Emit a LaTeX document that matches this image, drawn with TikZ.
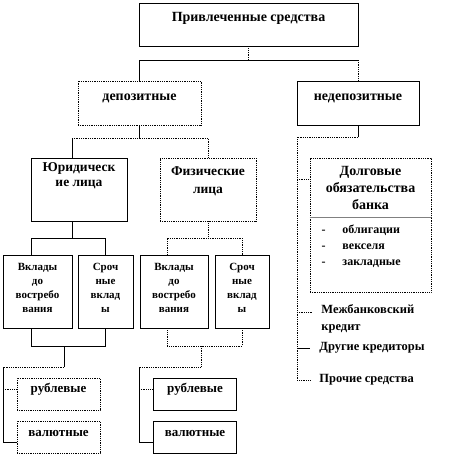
\documentclass[tikz,border=0pt]{standalone}
\usepackage{fontspec}
\setmainfont{Liberation Serif}
\newcommand{\punkt}[1]{\makebox[98pt][l]{\makebox[21pt][l]{-}#1}}
\tikzset{
  blok/.style={draw, align=center, inner sep=0pt, font=\bfseries\fontsize{14}{16}\selectfont},
  malblok/.style={blok, minimum height=73pt, font=\bfseries\fontsize{11}{14}\selectfont},
  valblok/.style={blok, minimum width=83pt, minimum height=32pt, font=\bfseries\fontsize{13}{14}\selectfont},
  podpis/.style={align=left, anchor=west, inner ysep=0pt, inner xsep=9pt, font=\bfseries\fontsize{12.5}{17}\selectfont},
  tochki/.style={densely dotted}
}
\begin{document}
\begin{tikzpicture}[x=1pt, y=-1pt, line width=0.8pt]
  \useasboundingbox (0,0) rectangle (468,456);
  % Блоки
  \node[blok, minimum width=219pt, minimum height=43pt] (privl) at (248.5,24.5) {Привлеченные средства\\[-1pt]};
  \node[blok, tochki, minimum width=123pt, minimum height=44pt] (depoz) at (139.5,103) {депозитные\\[-4pt]};
  \node[blok, minimum width=122pt, minimum height=44pt] (nedepoz) at (358,103) {недепозитные\\[-4pt]};
  \node[blok, minimum width=96pt, minimum height=63pt, font=\bfseries\fontsize{13.5}{15}\selectfont] (yurlica) at (79,189.5) {Юридическ\\ие лица\\[15pt]};
  \node[blok, tochki, minimum width=96pt, minimum height=63pt, font=\bfseries\fontsize{13.5}{18}\selectfont] (fizlica) at (208,189.5) {Физические\\лица\\[1pt]};

  \node[malblok, minimum width=69pt] (vklyur) at (37.5,291.5) {Вклады\\до\\востребо\\вания\\[-6pt]};
  \node[malblok, minimum width=55pt] (srochyur) at (105.5,291.5) {Сроч\\ные\\вклад\\ы\\[-6pt]};
  \node[malblok, minimum width=68pt] (vklfiz) at (174,291.5) {Вклады\\до\\востребо\\вания\\[-6pt]};
  \node[malblok, minimum width=54pt] (srochfiz) at (242,291.5) {Сроч\\ные\\вклад\\ы\\[-6pt]};

  \node[valblok, tochki] (rubyur) at (58.5,394) {рублевые\\[-2pt]};
  \node[valblok, tochki] (valyur) at (58.5,437) {валютные\\[-6pt]};
  \node[valblok] (rubfiz) at (195,394) {рублевые\\[-2pt]};
  \node[valblok] (valfiz) at (195,437) {валютные\\[-6pt]};

  \node[blok, tochki, minimum width=121pt, minimum height=59pt, font=\bfseries\fontsize{14}{17}\selectfont] (dolg) at (370.5,187.5) {Долговые\\обязательства\\банка};
  \node[blok, tochki, minimum width=121pt, minimum height=75pt, font=\bfseries\fontsize{12}{16}\selectfont] (spisok) at (370.5,254.5) {\punkt{облигации}\\\punkt{векселя}\\\punkt{закладные}\\[3pt]};
  \draw[gray, line width=1.2pt] (dolg.south west) -- (dolg.south east);

  \node[podpis] (mezh) at (312,318.5) {Межбанковский\\кредит};
  \node[podpis] (drugie) at (310,348) {Другие кредиторы};
  \node[podpis] (prochie) at (310,380) {Прочие средства};

  % Связи
  \coordinate (uzel1) at (139.5,138);
  \coordinate (uzel2) at (72,238);
  \coordinate (uzel3) at (208,238);
  \coordinate (uzel4) at (64,346);
  \coordinate (uzel5) at (3,367);
  \coordinate (uzel6) at (201,346);
  \coordinate (uzel7) at (139,367);
  \coordinate (stvol) at (297,137);

  \draw[tochki] (privl.south) -- (privl.south |- 0,60);
  \draw (depoz.north) |- (nedepoz.north |- 0,60);
  \draw[tochki] (nedepoz.north |- 0,60) -- (nedepoz.north);

  \draw (depoz.south) -- (uzel1);
  \draw ([xshift=-7pt]yurlica.north) -- ([xshift=-7pt]yurlica.north |- uzel1);
  \draw[tochki] ([xshift=-7pt]yurlica.north |- uzel1) -- (fizlica.north |- uzel1) -- (fizlica.north);

  \draw ([xshift=-7pt]yurlica.south) -- (uzel2);
  \draw ([xshift=-6.5pt]vklyur.north) |- (srochyur.north |- uzel2) -- (srochyur.north);
  \draw[tochki] (fizlica.south) -- (uzel3);
  \draw[tochki] ([xshift=-7pt]vklfiz.north) |- (srochfiz.north |- uzel3) -- (srochfiz.north);

  \draw ([xshift=-6.5pt]vklyur.south) |- (srochyur.south |- uzel4) -- (srochyur.south);
  \draw (uzel4) -- (uzel4 |- uzel5);
  \draw[tochki] (uzel4 |- uzel5) -- (uzel5);
  \draw (uzel5) |- ([yshift=-5pt]valyur.west);
  \draw[tochki] ([yshift=5pt]uzel5 |- rubyur.west) -- ([yshift=5pt]rubyur.west);

  \draw[tochki] ([xshift=-7pt]vklfiz.south) |- (srochfiz.south |- uzel6) -- (srochfiz.south);
  \draw[tochki] (uzel6) -- (uzel6 |- uzel7) -- (uzel7);
  \draw (uzel7) |- ([yshift=-5pt]valfiz.west);
  \draw[tochki] ([yshift=5pt]uzel7 |- rubfiz.west) -- ([yshift=5pt]rubfiz.west);

  \draw (nedepoz.south) -- (nedepoz.south |- stvol);
  \draw[tochki] (nedepoz.south |- stvol) -- (stvol) |- (prochie.west);
  \draw[tochki] ([yshift=8pt]stvol |- dolg.west) -- ([yshift=8pt]dolg.west);
  \draw[tochki] ([yshift=6.5pt]stvol |- mezh.west) -- ([yshift=6.5pt]mezh.west);
  \draw (stvol |- drugie.west) -- (drugie.west);
\end{tikzpicture}
\end{document}
